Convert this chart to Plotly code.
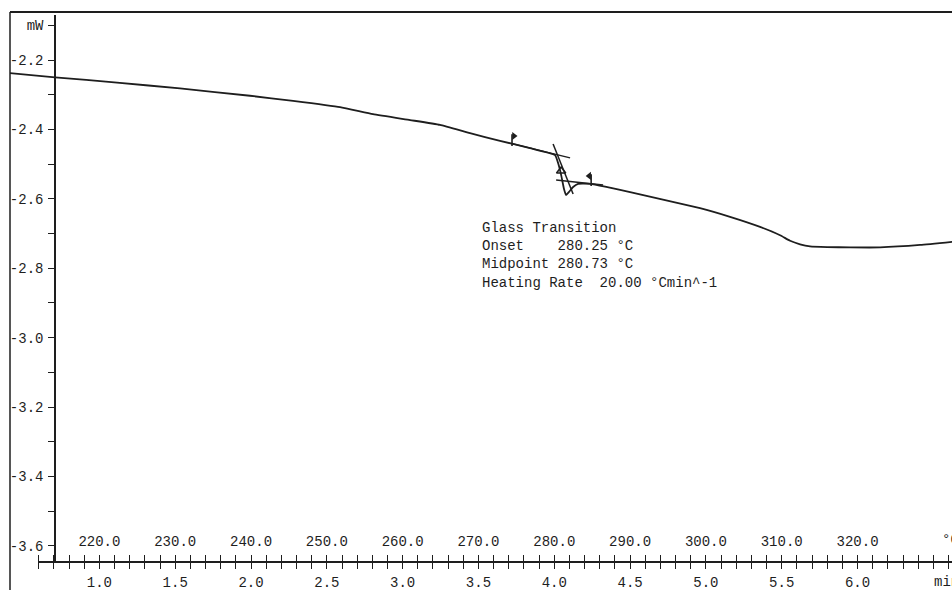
import numpy as np
import plotly.graph_objects as go

# ---- DSC curve: time (min) vs heat flow (mW)
time_min = [0.410, 0.707, 1.116, 1.531, 1.993, 2.277, 2.587, 2.804, 3.049, 3.246,
            3.444, 3.642, 3.840, 4.005, 4.025, 4.045, 4.064, 4.077, 4.097, 4.124,
            4.157, 4.236, 4.335, 4.500, 4.961, 5.159, 5.357, 5.489, 5.555, 5.621,
            5.687, 5.800, 5.951, 6.149, 6.413, 6.624]
heat_flow = [-2.238, -2.250, -2.265, -2.282, -2.303, -2.318, -2.336, -2.356, -2.373, -2.387,
             -2.411, -2.433, -2.454, -2.474, -2.497, -2.531, -2.572, -2.589, -2.580, -2.566,
             -2.557, -2.557, -2.565, -2.581, -2.627, -2.652, -2.681, -2.705, -2.721, -2.731,
             -2.737, -2.739, -2.740, -2.740, -2.733, -2.724]

# ---- glass-transition evaluation construction
tangent_before_x = [3.721, 4.104]
tangent_before_y = [-2.441, -2.482]
tangent_inflect_x = [3.992, 4.124]
tangent_inflect_y = [-2.442, -2.586]
tangent_after_x = [4.012, 4.322]
tangent_after_y = [-2.546, -2.560]
flag_x = [3.721, 4.243]
flag_bottom = [-2.448, -2.563]
flag_top = [-2.414, -2.529]
pennant_x = [3.734, 4.230]
pennant_y = [-2.419, -2.534]
midpoint_x = [4.045]
midpoint_y = [-2.520]

# ---- axes
y_tick_vals = [-2.1, -2.2, -2.3, -2.4, -2.5, -2.6, -2.7, -2.8, -2.9, -3.0,
               -3.1, -3.2, -3.3, -3.4, -3.5, -3.6]
y_tick_text = ["mW", "-2.2", "", "-2.4", "", "-2.6", "", "-2.8", "", "-3.0",
               "", "-3.2", "", "-3.4", "", "-3.6"]
minute_labels = ["1.0", "1.5", "2.0", "2.5", "3.0", "3.5", "4.0", "4.5", "5.0", "5.5", "6.0"]
minute_label_pos = [1.0, 1.5, 2.0, 2.5, 3.0, 3.5, 4.0, 4.5, 5.0, 5.5, 6.0]
temp_labels = ["220.0", "230.0", "240.0", "250.0", "260.0", "270.0", "280.0",
               "290.0", "300.0", "310.0", "320.0"]

annotation_lines = ["Glass Transition",
                    "Onset    280.25 °C",
                    "Midpoint 280.73 °C",
                    "Heating Rate  20.00 °Cmin^-1"]

minor_ticks = [round(v, 1) for v in np.arange(0.6, 6.65, 0.1)]
def label_for(v, pos, labels):
    for p, l in zip(pos, labels):
        if abs(p - v) < 1e-6:
            return l
    return ""
minute_tick_text = [label_for(v, minute_label_pos, minute_labels) for v in minor_ticks]
temp_tick_text = [label_for(v, minute_label_pos, temp_labels) for v in minor_ticks]

INK = "#1e1e1e"
FONT = dict(family="Liberation Mono, Courier New, monospace", size=14, color=INK)

fig = go.Figure()
fig.add_trace(go.Scatter(x=time_min, y=heat_flow, mode="lines",
                         line=dict(color=INK, width=1.8, shape="spline", smoothing=0.4),
                         xaxis="x", yaxis="y", showlegend=False, hoverinfo="skip"))
for tx, ty in [(tangent_before_x, tangent_before_y),
               (tangent_inflect_x, tangent_inflect_y),
               (tangent_after_x, tangent_after_y)]:
    fig.add_trace(go.Scatter(x=tx, y=ty, mode="lines", line=dict(color=INK, width=1.5),
                             xaxis="x", yaxis="y", showlegend=False, hoverinfo="skip"))
for fx, fb, ft in zip(flag_x, flag_bottom, flag_top):
    fig.add_trace(go.Scatter(x=[fx, fx], y=[fb, ft], mode="lines",
                             line=dict(color=INK, width=1.6),
                             xaxis="x", yaxis="y", showlegend=False, hoverinfo="skip"))
fig.add_trace(go.Scatter(x=pennant_x, y=pennant_y, mode="markers",
                         marker=dict(symbol=["triangle-right", "triangle-left"], size=7, color=INK),
                         xaxis="x", yaxis="y", showlegend=False, hoverinfo="skip"))
fig.add_trace(go.Scatter(x=midpoint_x, y=midpoint_y, mode="markers",
                         marker=dict(symbol="triangle-up-open", size=8, color=INK,
                                     line=dict(width=1.6, color=INK)),
                         xaxis="x", yaxis="y", showlegend=False, hoverinfo="skip"))
# empty traces so that the two tick axes are drawn
fig.add_trace(go.Scatter(x=[], y=[], xaxis="x2", yaxis="y", showlegend=False, hoverinfo="skip"))
fig.add_trace(go.Scatter(x=[], y=[], xaxis="x3", yaxis="y", showlegend=False, hoverinfo="skip"))

W, H = 952, 590
ML, MT = 10, 12
PW, PH = W - ML, H - MT
y_axis_px = 55
x_axis_py = 561
x_start_px = 38

fig.update_layout(
    width=W, height=H, autosize=False,
    margin=dict(l=ML, r=0, t=MT, b=0, pad=0, autoexpand=False),
    paper_bgcolor="white", plot_bgcolor="rgba(0,0,0,0)",
    font=FONT,
    xaxis=dict(domain=[0, 1], range=[0.41, 6.623], anchor="y", visible=False,
               automargin=False),
    xaxis2=dict(domain=[(x_start_px - ML) / PW, 1], range=[0.595, 6.623], anchor="y",
                showline=True, linecolor=INK, linewidth=1.5, automargin=False,
                ticks="outside", ticklen=6, tickwidth=1.3, tickcolor=INK,
                tickmode="array", tickvals=minor_ticks, ticktext=minute_tick_text,
                tickfont=FONT, ticklabelstandoff=1,
                showgrid=False, zeroline=False),
    xaxis3=dict(overlaying="x2", range=[0.595, 6.623], anchor="free",
                position=(H - x_axis_py) / PH, side="top", automargin=False,
                showline=False, ticks="outside", ticklen=6, tickwidth=1.3, tickcolor=INK,
                tickmode="array", tickvals=minor_ticks, ticktext=temp_tick_text,
                tickfont=FONT, ticklabelstandoff=3,
                showgrid=False, zeroline=False),
    yaxis=dict(domain=[(H - x_axis_py) / PH, (H - 15) / PH], automargin=False,
               range=[-3.6438, -2.0703], anchor="free", position=(y_axis_px - ML) / PW,
               showline=True, linecolor=INK, linewidth=1.5,
               ticks="outside", ticklen=6, tickwidth=1.3, tickcolor=INK,
               tickmode="array", tickvals=y_tick_vals, ticktext=y_tick_text,
               tickfont=FONT, ticklabelstandoff=2,
               showgrid=False, zeroline=False),
    shapes=[
        dict(type="line", xref="paper", yref="paper", x0=0, x1=0, y0=0, y1=1,
             line=dict(color=INK, width=1.5)),
        dict(type="line", xref="paper", yref="paper", x0=0, x1=1, y0=1, y1=1,
             line=dict(color=INK, width=1.8)),
    ],
    annotations=[
        dict(xref="x", yref="y", x=3.51, y=-2.655, xanchor="left", yanchor="top",
             align="left", showarrow=False, font=FONT,
             text="<br>".join(s.replace(" ", "\u00a0") for s in annotation_lines)),
        dict(xref="paper", yref="paper", x=(932 - ML) / PW, y=(H - 582) / PH,
             xanchor="left", yanchor="middle", showarrow=False, font=FONT, text="min"),
        dict(xref="paper", yref="paper", x=(940 - ML) / PW, y=(H - 540) / PH,
             xanchor="left", yanchor="middle", showarrow=False, font=FONT, text="°C"),
    ],
)

fig.write_html("out.html", config={"displayModeBar": False},
               post_script="document.body.style.margin='0';document.body.style.overflow='hidden';")
